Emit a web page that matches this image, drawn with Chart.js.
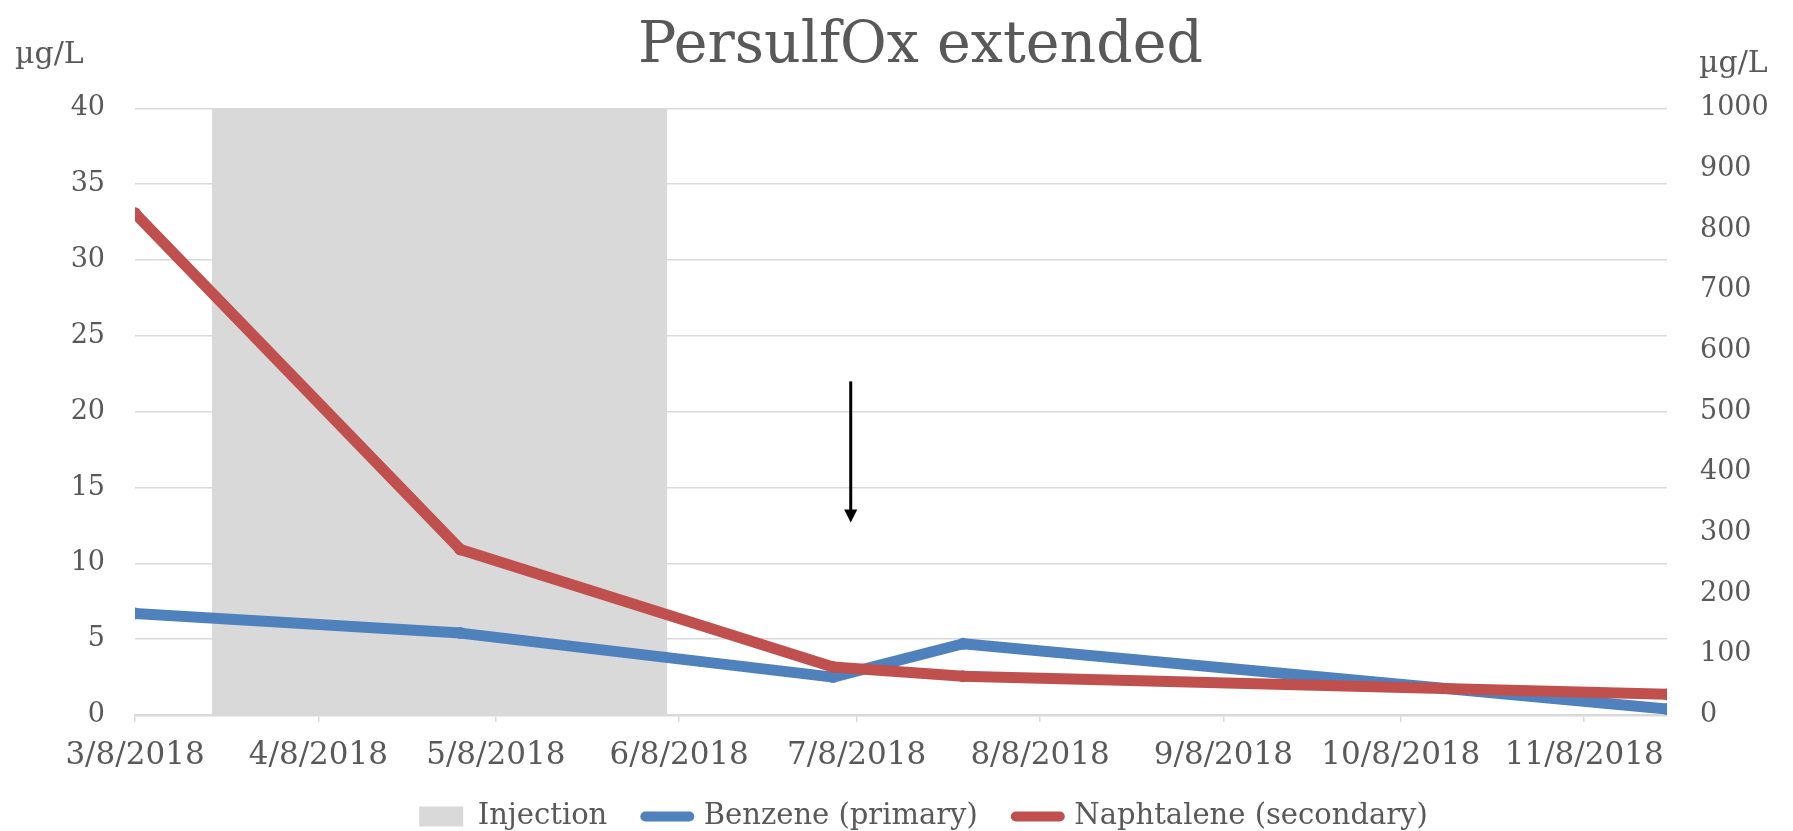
<!DOCTYPE html>
<html>
<head>
<meta charset="utf-8">
<title>PersulfOx extended</title>
<script src="https://cdn.jsdelivr.net/npm/chart.js@4.4.1/dist/chart.umd.min.js"></script>
<style>
  html, body { margin: 0; padding: 0; background: #fff; }
</style>
</head>
<body>
<canvas id="chart" width="1793" height="831"></canvas>
<script>
// sampling dates (m/d/yyyy) and concentrations
const sampleDates = ["3/8/2018", "5/2/2018", "7/4/2018", "7/26/2018", "11/22/2018"]
const benzene = [6.7, 5.4, 2.5, 4.7, 0.4]        // µg/L, left axis
const naphtalene = [827, 273, 79, 64, 34]       // µg/L, right axis

// injection period (grey band)
const injectionDates = ["3/21/2018", "6/6/2018"]
const injectionLevel = 40

// axis ticks
const tickDates = ["3/8/2018", "4/8/2018", "5/8/2018", "6/8/2018", "7/8/2018",
  "8/8/2018", "9/8/2018", "10/8/2018", "11/8/2018"]
const leftTicks = [0, 5, 10, 15, 20, 25, 30, 35, 40]
const rightTicks = [0, 100, 200, 300, 400, 500, 600, 700, 800, 900, 1000]

// arrow annotation (left axis units)
const arrowDate = "7/7/2018"
const arrowFrom = 22
const arrowTo = 12.7

const FONT = "'DejaVu Serif', serif"
const TEXT = "#595959"
const GRID = "#D9D9D9"
const BLUE = "#4F81BD"
const RED = "#C0504D"

// days since first tick date
function dayOf(s) {
  const [m, d, y] = s.split("/").map(Number)
  const [m0, d0, y0] = tickDates[0].split("/").map(Number)
  return (Date.UTC(y, m - 1, d) - Date.UTC(y0, m0 - 1, d0)) / 86400000
}

// µg/L labels above both axes
const unitLabels = {
  id: "unitLabels",
  afterDraw(chart) {
    const ctx = chart.ctx
    ctx.save()
    ctx.fillStyle = TEXT
    ctx.font = "30px " + FONT
    ctx.textBaseline = "alphabetic"
    ctx.textAlign = "left"
    ctx.fillText("µg/L", 15, 63)
    ctx.fillText("µg/L", 1699, 72)
    ctx.restore()
  }
}

// vertical arrow
const arrowPlugin = {
  id: "arrow",
  afterDatasetsDraw(chart) {
    const { ctx, scales } = chart
    const x = scales.x.getPixelForValue(dayOf(arrowDate))
    const y1 = scales.y.getPixelForValue(arrowFrom)
    const y2 = scales.y.getPixelForValue(arrowTo)
    ctx.save()
    ctx.strokeStyle = "#000"
    ctx.fillStyle = "#000"
    ctx.lineWidth = 3
    ctx.beginPath()
    ctx.moveTo(x, y1)
    ctx.lineTo(x, y2 - 10)
    ctx.stroke()
    ctx.beginPath()
    ctx.moveTo(x - 6.5, y2 - 13)
    ctx.lineTo(x + 6.5, y2 - 13)
    ctx.lineTo(x, y2)
    ctx.closePath()
    ctx.fill()
    ctx.restore()
  }
}

// the original title and legend sit a bit right of centre
const blockNudge = {
  id: "blockNudge",
  afterLayout(chart) {
    const lg = chart.legend
    lg.left += 27
    lg.right += 27
    lg.top -= 9
    lg.bottom = chart.height
    const tb = chart.titleBlock
    tb.left += 24
    tb.right += 24
  }
}

const ctx = document.getElementById("chart").getContext("2d")

new Chart(ctx, {
  type: "line",
  data: {
    datasets: [
      {
        label: "Injection",
        data: injectionDates.map((d) => ({ x: dayOf(d), y: injectionLevel })),
        yAxisID: "y",
        backgroundColor: GRID,
        borderColor: GRID,
        borderWidth: 0,
        pointRadius: 0,
        fill: "origin",
        order: 3
      },
      {
        label: "Benzene (primary)",
        data: sampleDates.map((d, i) => ({ x: dayOf(d), y: benzene[i] })),
        yAxisID: "y",
        borderColor: BLUE,
        backgroundColor: BLUE,
        borderWidth: 11,
        borderCapStyle: "round",
        borderJoinStyle: "round",
        pointRadius: 6,
        pointBorderWidth: 0,
        tension: 0,
        order: 2
      },
      {
        label: "Naphtalene (secondary)",
        data: sampleDates.map((d, i) => ({ x: dayOf(d), y: naphtalene[i] })),
        yAxisID: "y1",
        borderColor: RED,
        backgroundColor: RED,
        borderWidth: 11,
        borderCapStyle: "round",
        borderJoinStyle: "round",
        pointRadius: 6,
        pointBorderWidth: 0,
        tension: 0,
        order: 1
      }
    ]
  },
  options: {
    responsive: false,
    animation: false,
    events: [],
    layout: { padding: 0 },
    scales: {
      x: {
        type: "linear",
        min: 0,
        max: dayOf(sampleDates[sampleDates.length - 1]),
        afterBuildTicks: (s) => {
          s.ticks = tickDates.map((d) => ({ value: dayOf(d) }))
        },
        afterFit: (s) => { s.height = 58 },
        ticks: {
          autoSkip: false,
          maxRotation: 0,
          padding: 15,
          color: TEXT,
          font: { family: FONT, size: 31 },
          callback: (v, i) => tickDates[i]
        },
        grid: { drawOnChartArea: false, drawTicks: true, tickLength: 7, color: GRID, lineWidth: 1.5 },
        border: { color: GRID, width: 2.5 }
      },
      y: {
        position: "left",
        min: leftTicks[0],
        max: leftTicks[leftTicks.length - 1],
        afterFit: (s) => { s.width = 135 },
        ticks: {
          stepSize: leftTicks[1] - leftTicks[0],
          padding: 30,
          color: TEXT,
          font: { family: FONT, size: 27 },
          callback: (v) => String(v)
        },
        grid: { color: GRID, lineWidth: 1.5, drawTicks: false },
        border: { display: false }
      },
      y1: {
        position: "right",
        min: rightTicks[0],
        max: rightTicks[rightTicks.length - 1],
        afterFit: (s) => { s.width = 126 },
        ticks: {
          stepSize: rightTicks[1] - rightTicks[0],
          padding: 33,
          color: TEXT,
          font: { family: FONT, size: 27 },
          callback: (v) => String(v)
        },
        grid: { drawOnChartArea: false, drawTicks: false },
        border: { display: false }
      }
    },
    plugins: {
      title: {
        display: true,
        text: "PersulfOx extended",
        color: TEXT,
        font: { family: FONT, size: 57, weight: "normal" },
        padding: { top: 13, bottom: 27 }
      },
      legend: {
        position: "bottom",
        maxHeight: 58,
        labels: {
          usePointStyle: true,
          pointStyleWidth: 44,
          boxHeight: 20,
          padding: 38,
          color: TEXT,
          font: { family: FONT, size: 29 },
          generateLabels: (chart) => chart.data.datasets.map((ds, i) => ({
            text: ds.label,
            datasetIndex: i,
            hidden: false,
            fontColor: TEXT,
            fillStyle: ds.backgroundColor,
            strokeStyle: ds.borderColor,
            lineWidth: i === 0 ? 0 : 10,
            lineCap: "round",
            pointStyle: i === 0 ? "rect" : "line"
          }))
        }
      },
      tooltip: { enabled: false }
    }
  },
  plugins: [unitLabels, arrowPlugin, blockNudge]
})
</script>
</body>
</html>
